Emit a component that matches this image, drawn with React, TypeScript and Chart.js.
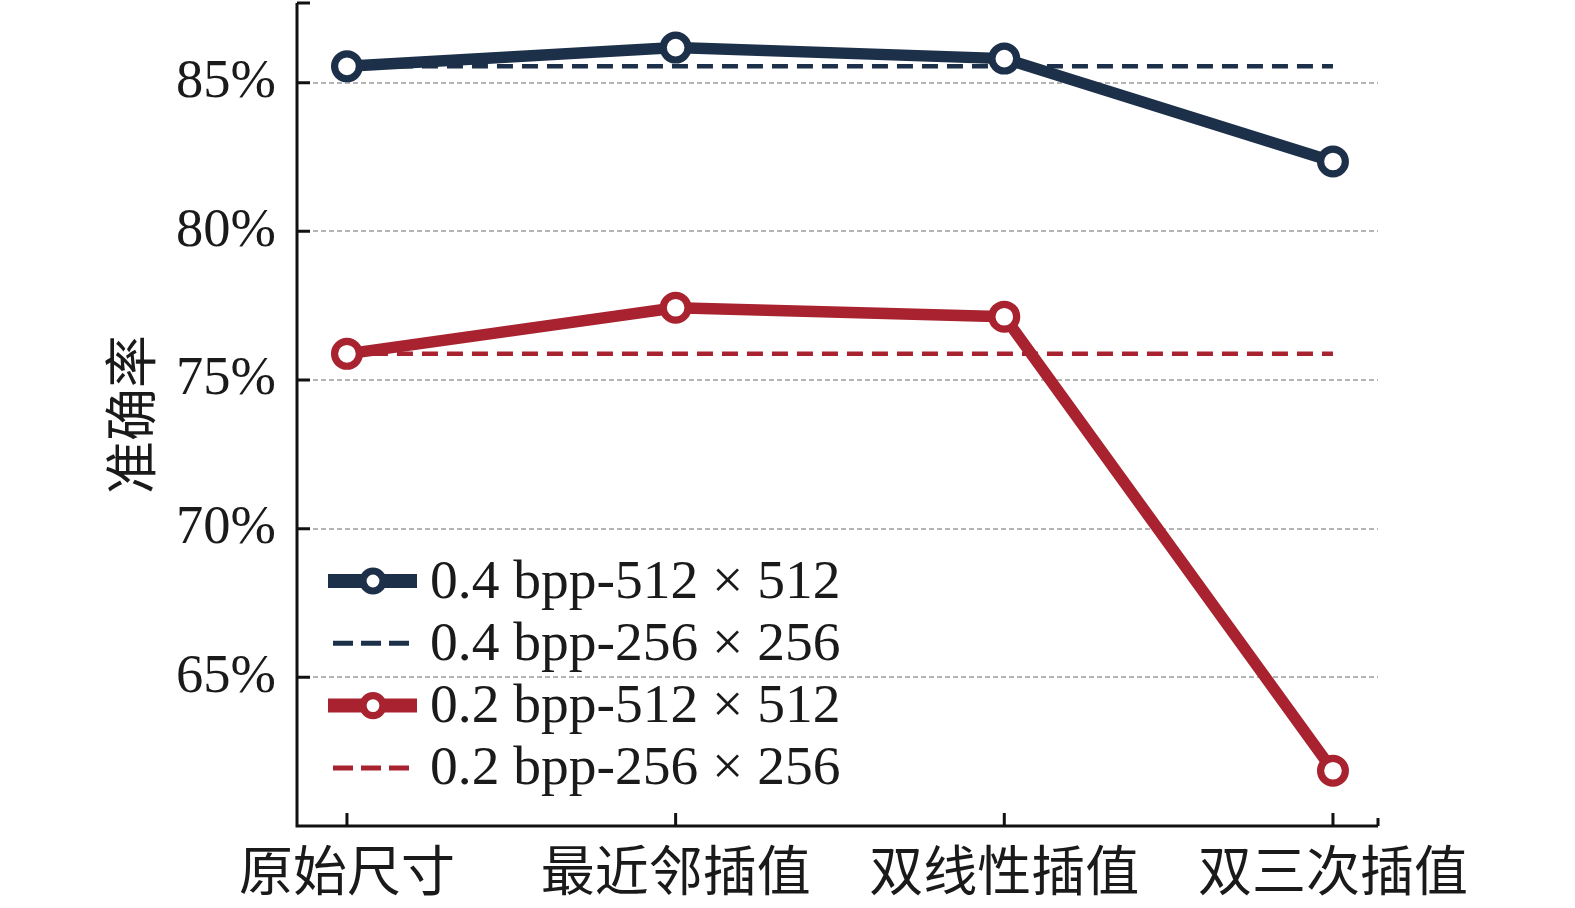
import React, { useEffect, useRef } from "react";
import { Chart, registerables } from "chart.js";

Chart.register(...registerables);

const categories = ["原始尺寸", "最近邻插值", "双线性插值", "双三次插值"];
const seriesNames = ["0.4 bpp-512 × 512", "0.4 bpp-256 × 256", "0.2 bpp-512 × 512", "0.2 bpp-256 × 256"];
const s04_512 = [85.55, 86.18, 85.81, 82.35];
const s04_256 = [85.55, 85.55, 85.55, 85.55];
const s02_512 = [75.88, 77.43, 77.13, 61.86];
const s02_256 = [75.88, 75.88, 75.88, 75.88];
const yTicks = [65, 70, 75, 80, 85];

const NAVY = "#1d3049";
const RED = "#a8232f";
const SERIF = "'Liberation Serif', 'Times New Roman', serif";
const CJK = "'Noto Sans CJK SC', sans-serif";

const toXY = (arr: number[]) => arr.map((v, i) => ({ x: i, y: v }));

const zeroPad = (s: any) => {
  s.paddingTop = 0;
  s.paddingBottom = 0;
  s.paddingLeft = 0;
  s.paddingRight = 0;
};

const axesPlugin = {
  id: "inwardAxes",
  afterDatasetsDraw(chart: any) {
    const { ctx, chartArea } = chart;
    const xs = chart.scales.x;
    const ys = chart.scales.y;
    ctx.save();
    ctx.strokeStyle = "#111";
    ctx.lineWidth = 3;
    ctx.beginPath();
    ctx.moveTo(chartArea.left, chartArea.top);
    ctx.lineTo(chartArea.left, chartArea.bottom);
    ctx.lineTo(chartArea.right, chartArea.bottom);
    ctx.stroke();
    ctx.beginPath();
    [...yTicks, ys.max].forEach((v) => {
      const p = ys.getPixelForValue(v);
      ctx.moveTo(chartArea.left, p);
      ctx.lineTo(chartArea.left + 13, p);
    });
    categories.forEach((_, i) => {
      const p = xs.getPixelForValue(i);
      ctx.moveTo(p, chartArea.bottom);
      ctx.lineTo(p, chartArea.bottom - 13);
    });
    const pr = xs.getPixelForValue(xs.max);
    ctx.moveTo(pr, chartArea.bottom);
    ctx.lineTo(pr, chartArea.bottom - 8);
    ctx.stroke();
    ctx.restore();
  },
};

const legendPlugin = {
  id: "innerLegend",
  afterDraw(chart: any) {
    const { ctx, chartArea } = chart;
    ctx.save();
    const x0 = chartArea.left + 31;
    const y0 = chartArea.top + 578;
    const rowH = 62.3;
    chart.data.datasets.forEach((ds: any, i: number) => {
      const y = y0 + i * rowH;
      ctx.strokeStyle = ds.borderColor;
      ctx.beginPath();
      if (ds.borderDash && ds.borderDash.length) {
        ctx.lineWidth = 5;
        ctx.setLineDash([20, 8]);
        ctx.moveTo(x0 + 5, y);
        ctx.lineTo(x0 + 81, y);
      } else {
        ctx.lineWidth = 14;
        ctx.setLineDash([]);
        ctx.moveTo(x0, y);
        ctx.lineTo(x0 + 89, y);
      }
      ctx.stroke();
      ctx.setLineDash([]);
      if (ds.pointRadius > 0) {
        ctx.beginPath();
        ctx.arc(x0 + 45, y, 10, 0, Math.PI * 2);
        ctx.fillStyle = "#fff";
        ctx.fill();
        ctx.lineWidth = 7.2;
        ctx.strokeStyle = ds.borderColor;
        ctx.stroke();
      }
      ctx.fillStyle = "#1a1a1a";
      ctx.font = `55.5px ${SERIF}`;
      ctx.textBaseline = "middle";
      ctx.textAlign = "left";
      ctx.fillText(ds.label, x0 + 102, y + 2);
    });
    ctx.restore();
  },
};

export default function App() {
  const ref = useRef<HTMLCanvasElement | null>(null);
  useEffect(() => {
    document.body.style.margin = "0";
    document.body.style.overflow = "hidden";
    if (!ref.current) return;
    const solid = (label: string, data: number[], color: string) => ({
      label,
      data: toXY(data),
      borderColor: color,
      backgroundColor: color,
      borderWidth: 11.5,
      pointRadius: 12.4,
      pointBorderWidth: 7.2,
      pointBackgroundColor: "#fff",
      pointBorderColor: color,
      borderCapStyle: "round",
      tension: 0,
    });
    const dashed = (label: string, data: number[], color: string) => ({
      label,
      data: toXY(data),
      borderColor: color,
      backgroundColor: color,
      borderWidth: 4.5,
      borderDash: [16, 9],
      pointRadius: 0,
      tension: 0,
    });
    const chart = new Chart(ref.current, {
      type: "line",
      data: {
        datasets: [
          solid(seriesNames[0], s04_512, NAVY),
          dashed(seriesNames[1], s04_256, NAVY),
          solid(seriesNames[2], s02_512, RED),
          dashed(seriesNames[3], s02_256, RED),
        ] as any,
      },
      options: {
        animation: false,
        responsive: false,
        devicePixelRatio: 1,
        layout: { autoPadding: false, padding: { left: 99, top: 3, right: 197, bottom: 0 } },
        plugins: { legend: { display: false }, tooltip: { enabled: false } },
        scales: {
          x: {
            type: "linear",
            min: -0.152,
            max: 3.137,
            afterBuildTicks: (s: any) => {
              s.ticks = categories.map((_, i) => ({ value: i }));
            },
            afterFit: (s: any) => {
              s.height = 82;
              zeroPad(s);
            },
            ticks: {
              callback: (v: any) => categories[v as number] ?? "",
              font: { family: CJK, size: 54 },
              color: "#1a1a1a",
              padding: 12,
              maxRotation: 0,
              autoSkip: false,
            },
            grid: { display: false, drawTicks: false },
            border: { display: false },
          },
          y: {
            type: "linear",
            min: 60,
            max: 87.68,
            afterBuildTicks: (s: any) => {
              s.ticks = yTicks.map((v) => ({ value: v }));
            },
            afterFit: (s: any) => {
              s.width = 198;
              zeroPad(s);
            },
            ticks: {
              callback: (v: any) => `${v}%`,
              font: { family: SERIF, size: 54.5 },
              color: "#1a1a1a",
              padding: 21,
            },
            grid: { color: "#b4b4b4", lineWidth: 2, drawTicks: false },
            border: { display: false, dash: [5, 3] },
            title: {
              display: true,
              text: "准确率",
              font: { family: CJK, size: 53 },
              color: "#1a1a1a",
              padding: { top: 0, bottom: 0 },
            },
          },
        },
      },
      plugins: [axesPlugin, legendPlugin],
    });
    return () => chart.destroy();
  }, []);
  return (
    <div style={{ width: 1575, height: 908, background: "#fff", overflow: "hidden" }}>
      <canvas ref={ref} width={1575} height={908} style={{ width: 1575, height: 908, display: "block" }} />
    </div>
  );
}
